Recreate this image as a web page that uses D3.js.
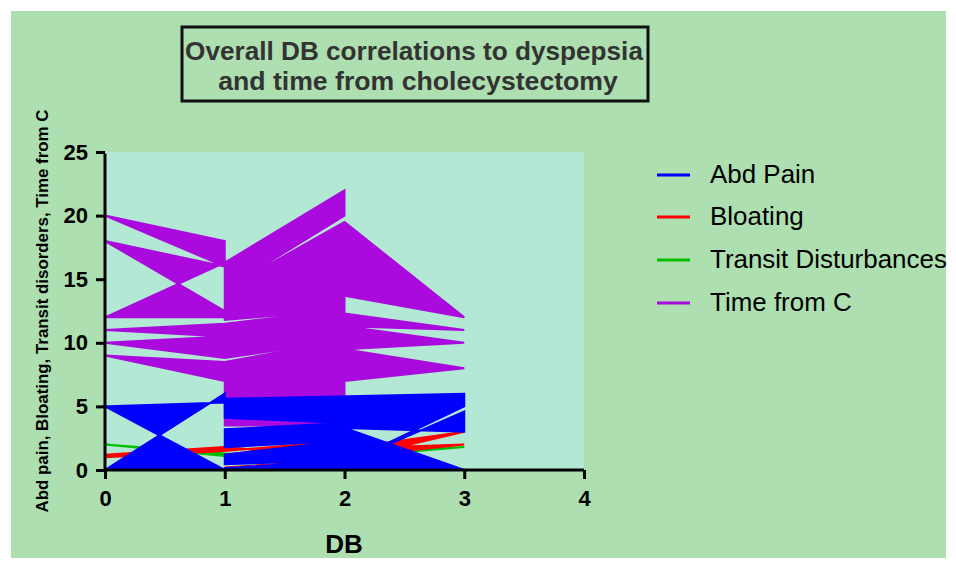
<!DOCTYPE html>
<html><head><meta charset="utf-8">
<script src="https://cdn.jsdelivr.net/npm/d3@7"></script>
<style>body{margin:0;background:#fff}svg{display:block}text{font-family:"Liberation Sans",Arial,sans-serif}</style>
</head><body>
<svg id="c" width="956" height="569"></svg>
<script>
// ---- data (x = DB score, y = value), in patient order ----
const seriesNames = ["Abd Pain", "Bloating", "Transit Disturbances", "Time from C"];
const seriesColors = ["#0000ff", "#ff0000", "#00c000", "#aa0add"];
const abdPainX = [0,1,0,1,1,3,3,2,3,3,2,3,1,1,2,1,1,2,1,1,2,1,1];
const abdPainY = [5,0,0,6,5.6,6,5,0.5,4.6,3,3.3,0,0,0.15,0.75,0.45,1.2,2.3,1.8,3.2,3.7,4.1,5.3];
const bloatingX = [0,1,2,1,2,1,2,3,2,3,2,1,0];
const bloatingY = [1,1.5,2.3,1.2,0.2,0.2,0.8,3,1.7,2,1,1.8,1.2];
const transitX = [0,1,2,3,2,1];
const transitY = [2,1.3,1.2,1.8,1,1.1];
const timeX = [0,1,1,0,1,2,2,1,2,3,2,2,3,2,3,2,3,2,2,1,1,0,1,2,1,0,1,0,1,2,1,1,0,1,1];
const timeY = [18,12.5,12,12,16.3,22,20,14.2,19.5,12,13.7,12.3,11,11.3,10,9.5,8,7,3.5,3.5,7,9,8.5,10.2,8.8,10,10.5,11,11.5,12.6,11.8,16,20,18,16];
const xTicks = [0,1,2,3,4];
const yTicks = [0,5,10,15,20,25];
const titleLines = ["Overall DB correlations to dyspepsia", "and time from cholecystectomy"];
const xTitle = "DB";
const yTitle = "Abd pain, Bloating, Transit disorders, Time from C";

const svg = d3.select("#c");
svg.append("rect").attr("x",11).attr("y",11).attr("width",935).attr("height",547).attr("fill","#addfb0");

const x = d3.scaleLinear().domain([0,4]).range([105,584]);
const y = d3.scaleLinear().domain([0,25]).range([470,152]);

svg.append("rect").attr("x",x(0)).attr("y",y(25)).attr("width",x(4)-x(0)).attr("height",y(0)-y(25)).attr("fill","#b3e9d4");

const toPts = (xs,ys)=>xs.map((v,i)=>[v,ys[i]]);
const data = [toPts(abdPainX,abdPainY), toPts(bloatingX,bloatingY), toPts(transitX,transitY), toPts(timeX,timeY)];
const line = d3.line().x(d=>x(d[0])).y(d=>y(d[1]));
const plot = svg.append("g");
[3,2,1,0].forEach(i=>{
  plot.append("path").attr("d", line(data[i])+"Z").attr("fill", seriesColors[i]).attr("fill-rule","nonzero")
    .attr("stroke", seriesColors[i]).attr("stroke-width",2).attr("stroke-linejoin","miter");
});

// axes
const yAxis = svg.append("g").attr("transform",`translate(${x(0)},0)`)
  .call(d3.axisLeft(y).tickValues(yTicks).tickSize(9).tickPadding(8).tickFormat(d3.format("d")));
const xAxis = svg.append("g").attr("transform",`translate(0,${y(0)})`)
  .call(d3.axisBottom(x).tickValues(xTicks).tickSize(9).tickPadding(11).tickFormat(d3.format("d")));
[yAxis,xAxis].forEach(a=>{
  a.select(".domain").attr("stroke","#000").attr("stroke-width",3);
  a.selectAll(".tick line").attr("stroke","#000").attr("stroke-width",3);
  a.selectAll("text").attr("fill","#000").attr("font-size",22).attr("font-weight","bold")
   .style("font-family",'"Liberation Sans",Arial,sans-serif');
});
yAxis.select(".domain").attr("d",`M0,${y(25)+1.5}V${y(0)}`);
xAxis.select(".domain").attr("d",`M${x(0)},0H${x(4)}`);

function fit(t,w){const l=t.node().getComputedTextLength();const fs=+t.attr("font-size");t.attr("font-size",fs*w/l);return fs*w/l;}

// titles
svg.append("rect").attr("x",182).attr("y",27).attr("width",466).attr("height",74).attr("fill","none").attr("stroke","#111").attr("stroke-width",3);
const t1 = svg.append("text").attr("x",414).attr("y",60).attr("text-anchor","middle").attr("font-weight","bold").attr("font-size",24).attr("fill","#333").text(titleLines[0]);
fit(t1,458);
const t2 = svg.append("text").attr("x",418).attr("y",90).attr("text-anchor","middle").attr("font-weight","bold").attr("font-size",24).attr("fill","#333").text(titleLines[1]);
fit(t2,400);

svg.append("text").attr("x",344).attr("y",553).attr("text-anchor","middle").attr("font-weight","bold").attr("font-size",26).attr("fill","#000").text(xTitle);
const yt = svg.append("text").attr("transform","translate(48,311) rotate(-90)").attr("text-anchor","middle").attr("font-weight","bold").attr("font-size",16).attr("fill","#000").text(yTitle);
fit(yt,403);

// legend
const lg = svg.append("g");
const texts = seriesNames.map((n,i)=>{
  const ly = [175,217,260,303][i];
  lg.append("line").attr("x1",657).attr("x2",690).attr("y1",ly).attr("y2",ly).attr("stroke",seriesColors[i]).attr("stroke-width",3);
  return lg.append("text").attr("x",710).attr("y",ly+8).attr("font-size",22).attr("fill","#000").text(n);
});
const lfs = fit(texts[2],237);
texts.forEach(t=>t.attr("font-size",lfs));
</script>
</body></html>
